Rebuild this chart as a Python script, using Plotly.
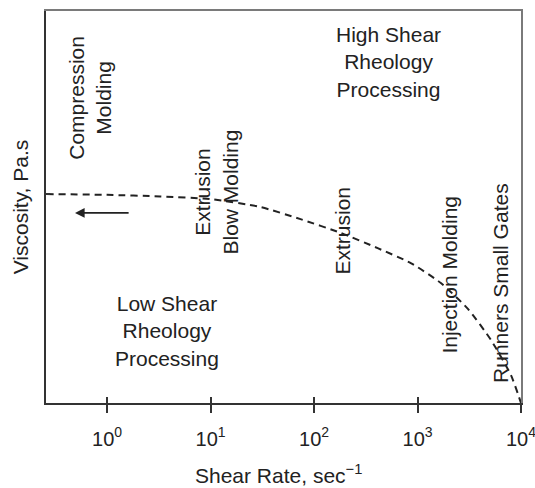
import plotly.graph_objects as go
import math

# Data
shear_rate = [0.26, 1, 3.26, 10, 30.3, 74, 181, 412, 861, 1680, 3070, 5120, 8000, 10000]
viscosity = [0.533, 0.531, 0.527, 0.520, 0.500, 0.469, 0.434, 0.395, 0.357, 0.306, 0.240, 0.161, 0.071, 0.0]

tick_vals = [1, 10, 100, 1000, 10000]
tick_text = ["10<sup>0</sup>", "10<sup>1</sup>", "10<sup>2</sup>", "10<sup>3</sup>", "10<sup>4</sup>"]

# Region labels
label_texts = ["Compression<br>Molding", "Extrusion<br>Blow Molding", "Extrusion",
               "Injection Molding", "Runners Small Gates",
               "High Shear<br>Rheology<br>Processing", "Low Shear<br>Rheology<br>Processing"]
label_x = [0.68, 11.4, 189, 2050, 6250, 525, 3.81]
label_y = [0.778, 0.538, 0.439, 0.327, 0.306, 0.87, 0.184]
label_rot = [True, True, True, True, True, False, False]

arrow_from = (1.67, 0.485)
arrow_to = (0.49, 0.485)

x_range = [math.log10(0.257), 4.0]
y_range = [0, 1]

FONT = "Liberation Sans, Arial, sans-serif"
TXT = "#222222"
AX = "#333333"
BOX = "#7a7a7a"

fig = go.Figure()
fig.add_trace(go.Scatter(
    x=shear_rate, y=viscosity, mode="lines",
    line=dict(color="#222222", width=2, dash="7px,5px", shape="spline", smoothing=0.6),
    showlegend=False, hoverinfo="skip"))

# invisible helper traces so overlay axes render
fig.add_trace(go.Scatter(x=[shear_rate[0]], y=[viscosity[0]], xaxis="x2", yaxis="y",
                         mode="markers", marker=dict(opacity=0), showlegend=False, hoverinfo="skip"))
fig.add_trace(go.Scatter(x=[shear_rate[0]], y=[viscosity[0]], xaxis="x3", yaxis="y2",
                         mode="markers", marker=dict(opacity=0), showlegend=False, hoverinfo="skip"))

for t, x, y, r in zip(label_texts, label_x, label_y, label_rot):
    fig.add_annotation(x=math.log10(x), y=y, xref="x", yref="y", text=t, showarrow=False,
                       textangle=-90 if r else 0,
                       font=dict(family=FONT, size=21, color=TXT),
                       align="center")

fig.add_annotation(x=math.log10(arrow_to[0]), y=arrow_to[1],
                   ax=math.log10(arrow_from[0]), ay=arrow_from[1],
                   xref="x", yref="y", axref="x", ayref="y", text="",
                   showarrow=True, arrowhead=2, arrowsize=1.2, arrowwidth=1.6, arrowcolor="#222222")

# x-axis title placed as paper annotation
fig.add_annotation(x=0.49, y=-0.182, xref="paper", yref="paper", showarrow=False,
                   text="Shear Rate, sec<sup>−1</sup>", yanchor="middle",
                   font=dict(family=FONT, size=21, color=TXT))

fig.update_layout(
    width=535, height=488,
    margin=dict(l=46, r=14, t=11, b=85, autoexpand=False),
    paper_bgcolor="white", plot_bgcolor="white",
    font=dict(family=FONT, size=18, color=TXT),
    xaxis=dict(type="log", range=x_range, tickvals=tick_vals, ticktext=tick_text,
               ticks="outside", ticklen=8, tickwidth=1.5, tickcolor=AX,
               ticklabelstandoff=9, automargin=False, ticklabeloverflow="allow",
               showline=True, linecolor=AX, linewidth=1.5, mirror=False,
               showgrid=False, zeroline=False,
               tickfont=dict(family=FONT, size=20, color=TXT)),
    xaxis2=dict(type="log", range=x_range, overlaying="x", side="bottom",
                tickvals=tick_vals, ticks="inside", ticklen=6, tickwidth=1.5, tickcolor=AX,
                showticklabels=False, showgrid=False, zeroline=False, showline=False),
    xaxis3=dict(type="log", range=x_range, overlaying="x", side="top",
                showticklabels=False, ticks="", showgrid=False, zeroline=False,
                showline=True, linecolor=BOX, linewidth=2),
    yaxis=dict(range=y_range, tickvals=[viscosity[0]], ticktext=[""],
               ticks="inside", ticklen=4, tickwidth=1.5, tickcolor=AX,
               showline=True, linecolor=AX, linewidth=1.5, mirror=False,
               showgrid=False, zeroline=False, automargin=False,
               title=dict(text="Viscosity, Pa.s", standoff=6,
                          font=dict(family=FONT, size=21, color=TXT))),
    yaxis2=dict(range=y_range, overlaying="y", side="right",
                showticklabels=False, ticks="", showgrid=False, zeroline=False,
                showline=True, linecolor=BOX, linewidth=2),
)

fig.write_html("out.html", config={"displayModeBar": False},
               post_script="document.body.style.margin='0';document.body.style.overflow='hidden';")
